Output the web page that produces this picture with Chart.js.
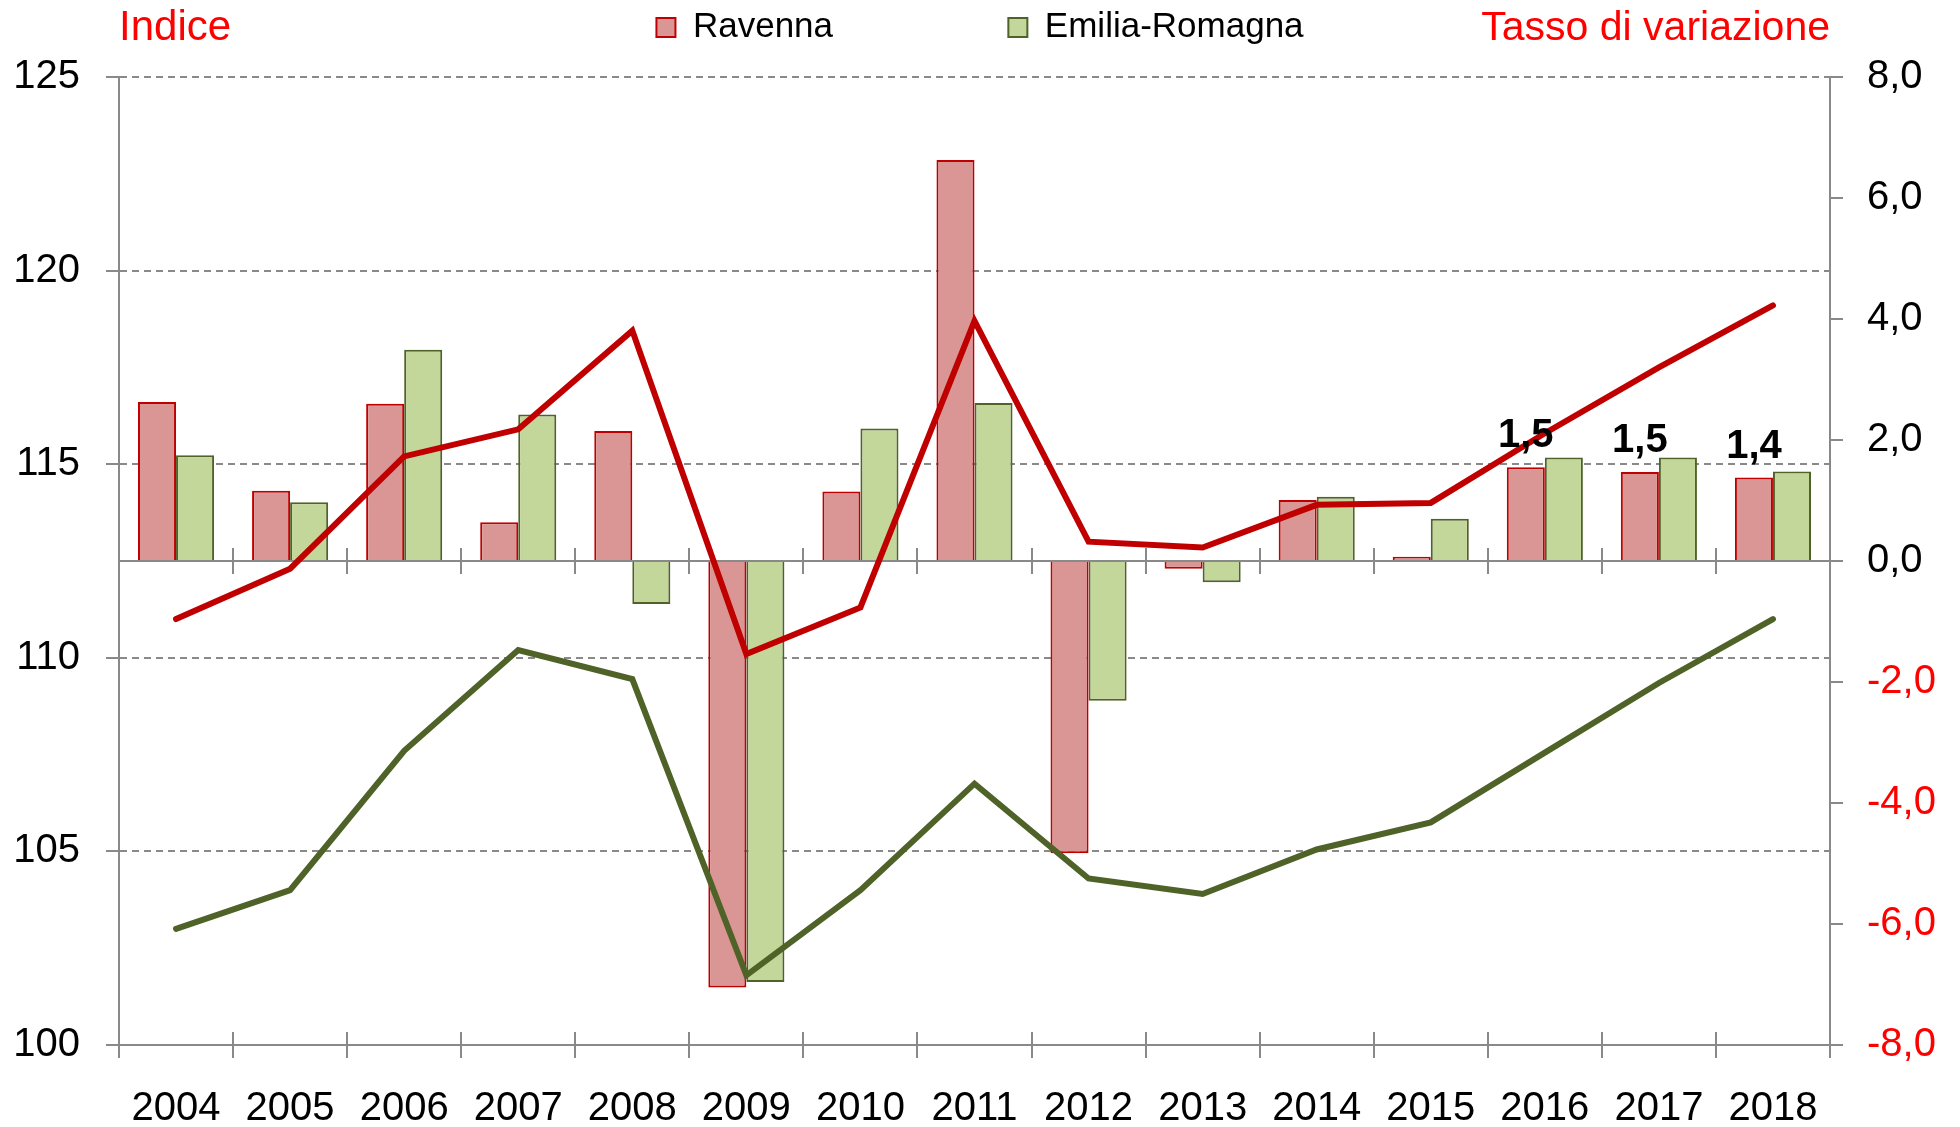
<!DOCTYPE html>
<html lang="it">
<head>
<meta charset="UTF-8">
<title>Ravenna - Emilia-Romagna</title>
<script src="https://cdn.jsdelivr.net/npm/chart.js"></script>
<style>
  html, body { margin: 0; padding: 0; background: #fff; }
</style>
</head>
<body>
<canvas id="chart" width="1960" height="1127"></canvas>
<script>
// dati
const years = ["2004","2005","2006","2007","2008","2009","2010","2011","2012","2013","2014","2015","2016","2017","2018"];
const ravennaRate = [2.63, 1.16, 2.60, 0.64, 2.15, -7.05, 1.15, 6.63, -4.83, -0.13, 1.01, 0.07, 1.55, 1.47, 1.38];
const emiliaRate = [1.75, 0.97, 3.49, 2.42, -0.71, -6.96, 2.19, 2.61, -2.31, -0.35, 1.06, 0.70, 1.71, 1.71, 1.48];
const ravennaIndex = [111.0, 112.3, 115.2, 115.9, 118.45, 110.1, 111.3, 118.7, 113.0, 112.85, 113.95, 114.0, 115.8, 117.5, 119.1];
const emiliaIndex = [103.0, 104.0, 107.6, 110.2, 109.45, 101.8, 104.0, 106.75, 104.3, 103.9, 105.05, 105.75, 107.55, 109.35, 111.0];
const ravennaLabels = ["", "", "", "", "", "", "", "", "", "", "", "", "1,5", "1,5", "1,4"];

const FONT = "'Liberation Sans', Arial, sans-serif";
const GRAY = "#898989";
const RED = "#ff0000";

Chart.defaults.font.family = FONT;
Chart.defaults.color = "#000";

// titoli "Indice" e "Tasso di variazione"
const axisTitles = {
  id: "axisTitles",
  afterDraw(chart) {
    const { ctx, chartArea } = chart;
    ctx.save();
    ctx.fillStyle = RED;
    ctx.textBaseline = "alphabetic";
    ctx.font = "42px " + FONT;
    ctx.textAlign = "left";
    ctx.fillText("Indice", chartArea.left, 40);
    ctx.font = "41px " + FONT;
    ctx.textAlign = "right";
    ctx.fillText("Tasso di variazione", chartArea.right, 40);
    ctx.restore();
  }
};

// piccole tacche sulla linea dello zero e sopra l'asse x
const zeroTicks = {
  id: "zeroTicks",
  beforeDatasetsDraw(chart) {
    const { ctx, chartArea } = chart;
    const y0 = chart.scales.y1.getPixelForValue(0);
    const step = (chartArea.right - chartArea.left) / years.length;
    ctx.save();
    ctx.strokeStyle = GRAY;
    ctx.lineWidth = 2;
    ctx.beginPath();
    for (let i = 0; i <= years.length; i++) {
      const x = Math.round(chartArea.left + i * step);
      ctx.moveTo(x, y0 - 13);
      ctx.lineTo(x, y0 + 13);
      ctx.moveTo(x, chartArea.bottom - 13);
      ctx.lineTo(x, chartArea.bottom);
    }
    ctx.stroke();
    ctx.restore();
  }
};

// etichette sulle barre di Ravenna
const barLabels = {
  id: "barLabels",
  afterDatasetsDraw(chart) {
    const { ctx } = chart;
    const meta = chart.getDatasetMeta(0);
    ctx.save();
    ctx.font = "bold 40px " + FONT;
    ctx.fillStyle = "#000";
    ctx.textAlign = "center";
    ctx.textBaseline = "alphabetic";
    meta.data.forEach((bar, i) => {
      if (!ravennaLabels[i]) return;
      ctx.fillText(ravennaLabels[i], bar.x, bar.y - 20);
    });
    ctx.restore();
  }
};

new Chart(document.getElementById("chart"), {
  type: "bar",
  data: {
    labels: years,
    datasets: [
      {
        label: "Ravenna",
        data: ravennaRate,
        yAxisID: "y1",
        backgroundColor: "#d99694",
        borderColor: "#c00000",
        borderWidth: 2,
        categoryPercentage: 0.667,
        barPercentage: 1.0,
        order: 2
      },
      {
        label: "Emilia-Romagna",
        data: emiliaRate,
        yAxisID: "y1",
        backgroundColor: "#c4d79b",
        borderColor: "#4f6228",
        borderWidth: 2,
        categoryPercentage: 0.667,
        barPercentage: 1.0,
        order: 2
      },
      {
        type: "line",
        label: "Ravenna indice",
        data: ravennaIndex,
        yAxisID: "y",
        borderColor: "#c00000",
        borderWidth: 6,
        pointRadius: 0,
        tension: 0,
        borderCapStyle: "round",
        order: 1
      },
      {
        type: "line",
        label: "Emilia-Romagna indice",
        data: emiliaIndex,
        yAxisID: "y",
        borderColor: "#4f6228",
        borderWidth: 6,
        pointRadius: 0,
        tension: 0,
        borderCapStyle: "round",
        order: 0
      }
    ]
  },
  options: {
    responsive: false,
    animation: false,
    layout: { padding: 0 },
    plugins: {
      tooltip: { enabled: false },
      legend: {
        position: "top",
        labels: {
          font: { size: 35 },
          color: "#000",
          boxWidth: 19,
          boxHeight: 19,
          padding: 10,
          generateLabels(chart) {
            const items = Chart.defaults.plugins.legend.labels.generateLabels(chart)
              .filter(it => it.datasetIndex < 2);
            items[0].text = items[0].text + " ".repeat(17);
            return items;
          }
        }
      }
    },
    scales: {
      x: {
        offset: true,
        grid: { offset: true, drawOnChartArea: false, tickLength: 13, color: GRAY, lineWidth: 2 },
        border: { color: GRAY, width: 2 },
        ticks: { font: { size: 40 }, color: "#000", padding: 27, maxRotation: 0, autoSkip: false },
        afterFit(s) { s.height = 82; }
      },
      xTop: {
        type: "category",
        position: "top",
        grid: { display: false },
        border: { display: false },
        ticks: { display: false },
        afterFit(s) { s.height = 22; }
      },
      y: {
        position: "left",
        min: 100,
        max: 125,
        ticks: { stepSize: 5, padding: 26, font: { size: 40 }, color: "#000" },
        grid: { color: GRAY, lineWidth: 2, tickLength: 13, tickColor: GRAY, tickBorderDash: [] },
        border: { color: GRAY, width: 2, dash: [7, 5] },
        afterFit(s) { s.width = 119; }
      },
      y1: {
        position: "right",
        min: -8,
        max: 8,
        ticks: {
          stepSize: 2,
          padding: 24,
          font: { size: 40 },
          color: ctx => (ctx.tick && ctx.tick.value < 0 ? RED : "#000"),
          callback: v => v.toFixed(1).replace(".", ",")
        },
        grid: {
          color: ctx => (ctx.tick && ctx.tick.value === 0 ? GRAY : "rgba(0,0,0,0)"),
          tickColor: GRAY,
          lineWidth: 2,
          tickLength: 13
        },
        border: { color: GRAY, width: 2 },
        afterFit(s) { s.width = 130; }
      }
    }
  },
  plugins: [axisTitles, zeroTicks, barLabels]
});
</script>
</body>
</html>
